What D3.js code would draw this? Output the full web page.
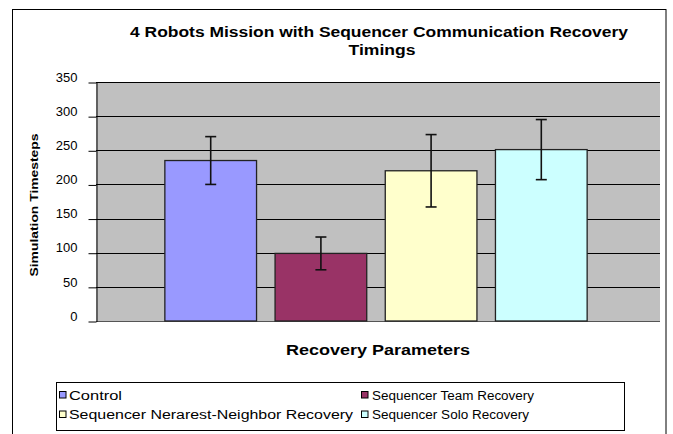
<!DOCTYPE html>
<html>
<head>
<meta charset="utf-8">
<script src="https://cdn.jsdelivr.net/npm/d3@7"></script>
<style>
  body { margin: 0; background: #fff; }
  text { font-family: "Liberation Sans", Arial, sans-serif; fill: #000; }
  .title { font-size: 14px; font-weight: bold; }
  .label { font-size: 14px; font-weight: bold; }
  .ylabel { font-size: 11.5px; font-weight: bold; }
  .legend text { font-size: 12.5px; }
  .axis text { font-size: 13px; }
</style>
</head>
<body>
<svg id="chart"></svg>
<script>
// series (one bar each)
var series = ["Control", "Sequencer Team Recovery", "Sequencer Nerarest-Neighbor Recovery", "Sequencer Solo Recovery"];
var means = [235, 99, 220, 251];
var errors = [35, 24, 53, 44];
var colors = ["#9999ff", "#993366", "#ffffcc", "#ccffff"];
var yTicks = [0, 50, 100, 150, 200, 250, 300, 350];

var w = 673;
var h = 434;
var plot = { left: 96, right: 660, top: 82, bottom: 321 };

var svg = d3.select("#chart")
  .attr("width", w)
  .attr("height", h);

// chart border
svg.append("rect")
  .attr("x", 12.5)
  .attr("y", 9.5)
  .attr("width", 653.5)
  .attr("height", 440)
  .attr("fill", "#fff")
  .attr("stroke", "#000")
  .attr("stroke-width", 1);

var yScale = d3.scaleLinear()
  .domain([0, 350])
  .range([plot.bottom, plot.top]);

var xScale = d3.scaleBand()
  .domain(series)
  .range([94, 658])
  .paddingInner(0.168)
  .paddingOuter(0.643);

// grey plot area
svg.append("rect")
  .attr("x", plot.left)
  .attr("y", plot.top)
  .attr("width", plot.right - plot.left)
  .attr("height", plot.bottom - plot.top)
  .attr("fill", "#c0c0c0");

// gridlines
svg.selectAll(".grid")
  .data(yTicks)
  .enter()
  .append("line")
  .attr("class", "grid")
  .attr("x1", plot.left)
  .attr("x2", plot.right)
  .attr("y1", function(d) { return Math.round(yScale(d)) + 0.5; })
  .attr("y2", function(d) { return Math.round(yScale(d)) + 0.5; })
  .attr("stroke", function(d) { return d === 0 ? "#555" : "#000"; })
  .attr("stroke-width", 1);

var yAxis = d3.axisLeft(yScale)
  .tickValues(yTicks)
  .tickSize(8)
  .tickSizeOuter(0)
  .tickPadding(11);

var gy = svg.append("g")
  .attr("class", "axis")
  .attr("transform", "translate(" + (plot.left + 0.5) + ",0.5)")
  .call(yAxis);
gy.select(".domain").attr("stroke", "#000");
gy.selectAll(".tick line").attr("stroke", "#000");
gy.selectAll(".tick text")
  .attr("dy", "-0.1em")
  .attr("font-family", null)
  .attr("font-size", null);

// bars
svg.selectAll(".bar")
  .data(series)
  .enter()
  .append("rect")
  .attr("class", "bar")
  .attr("x", function(d) { return xScale(d); })
  .attr("y", function(d, i) { return yScale(means[i]); })
  .attr("width", xScale.bandwidth())
  .attr("height", function(d, i) { return yScale(0) - yScale(means[i]); })
  .attr("fill", function(d, i) { return colors[i]; })
  .attr("stroke", "#222")
  .attr("stroke-width", 1.3);

// error bars
var eb = svg.selectAll(".err")
  .data(series)
  .enter()
  .append("g")
  .attr("class", "err")
  .attr("transform", function(d) {
    return "translate(" + (xScale(d) + xScale.bandwidth() / 2) + ",0)";
  });
eb.append("line")
  .attr("y1", function(d, i) { return yScale(means[i] + errors[i]); })
  .attr("y2", function(d, i) { return yScale(means[i] - errors[i]); })
  .attr("stroke", "#111")
  .attr("stroke-width", 1.6);
eb.append("line")
  .attr("x1", -5.5).attr("x2", 5.5)
  .attr("y1", function(d, i) { return yScale(means[i] + errors[i]); })
  .attr("y2", function(d, i) { return yScale(means[i] + errors[i]); })
  .attr("stroke", "#111")
  .attr("stroke-width", 1.6);
eb.append("line")
  .attr("x1", -5.5).attr("x2", 5.5)
  .attr("y1", function(d, i) { return yScale(means[i] - errors[i]); })
  .attr("y2", function(d, i) { return yScale(means[i] - errors[i]); })
  .attr("stroke", "#111")
  .attr("stroke-width", 1.6);

// title (two lines, like the original wrap)
svg.append("text")
  .attr("class", "title")
  .attr("x", 379)
  .attr("y", 37)
  .attr("text-anchor", "middle")
  .attr("textLength", 498)
  .attr("lengthAdjust", "spacingAndGlyphs")
  .text("4 Robots Mission with Sequencer Communication Recovery");
svg.append("text")
  .attr("class", "title")
  .attr("x", 382)
  .attr("y", 55)
  .attr("text-anchor", "middle")
  .attr("textLength", 67)
  .attr("lengthAdjust", "spacingAndGlyphs")
  .text("Timings");

//axis labels
svg.append("text")
  .attr("class", "label")
  .attr("x", 378)
  .attr("y", 355)
  .attr("text-anchor", "middle")
  .attr("textLength", 184)
  .attr("lengthAdjust", "spacingAndGlyphs")
  .text("Recovery Parameters");

svg.append("text")
  .attr("class", "ylabel")
  .attr("text-anchor", "middle")
  .attr("transform", "translate(38,205) rotate(-90)")
  .attr("textLength", 143)
  .attr("lengthAdjust", "spacingAndGlyphs")
  .text("Simulation Timesteps");

// legend
var legend = svg.append("g").attr("class", "legend");
legend.append("rect")
  .attr("x", 56.5)
  .attr("y", 382.5)
  .attr("width", 568)
  .attr("height", 48)
  .attr("fill", "#fff")
  .attr("stroke", "#000");

var legendPos = [
  { x: 59, tx: 69, y: 399.5, len: 53 },
  { x: 361, tx: 372, y: 399.5, len: 162 },
  { x: 59, tx: 69, y: 419, len: 284 },
  { x: 361, tx: 372, y: 419, len: 157 }
];

var items = legend.selectAll(".item")
  .data(series)
  .enter()
  .append("g")
  .attr("class", "item");
items.append("rect")
  .attr("x", function(d, i) { return legendPos[i].x + 0.5; })
  .attr("y", function(d, i) { return legendPos[i].y - 8; })
  .attr("width", 6.5)
  .attr("height", 6.5)
  .attr("fill", function(d, i) { return colors[i]; })
  .attr("stroke", "#000")
  .attr("stroke-width", 1);
items.append("text")
  .attr("x", function(d, i) { return legendPos[i].tx; })
  .attr("y", function(d, i) { return legendPos[i].y; })
  .attr("textLength", function(d, i) { return legendPos[i].len; })
  .attr("lengthAdjust", "spacingAndGlyphs")
  .text(function(d) { return d; });
</script>
</body>
</html>
